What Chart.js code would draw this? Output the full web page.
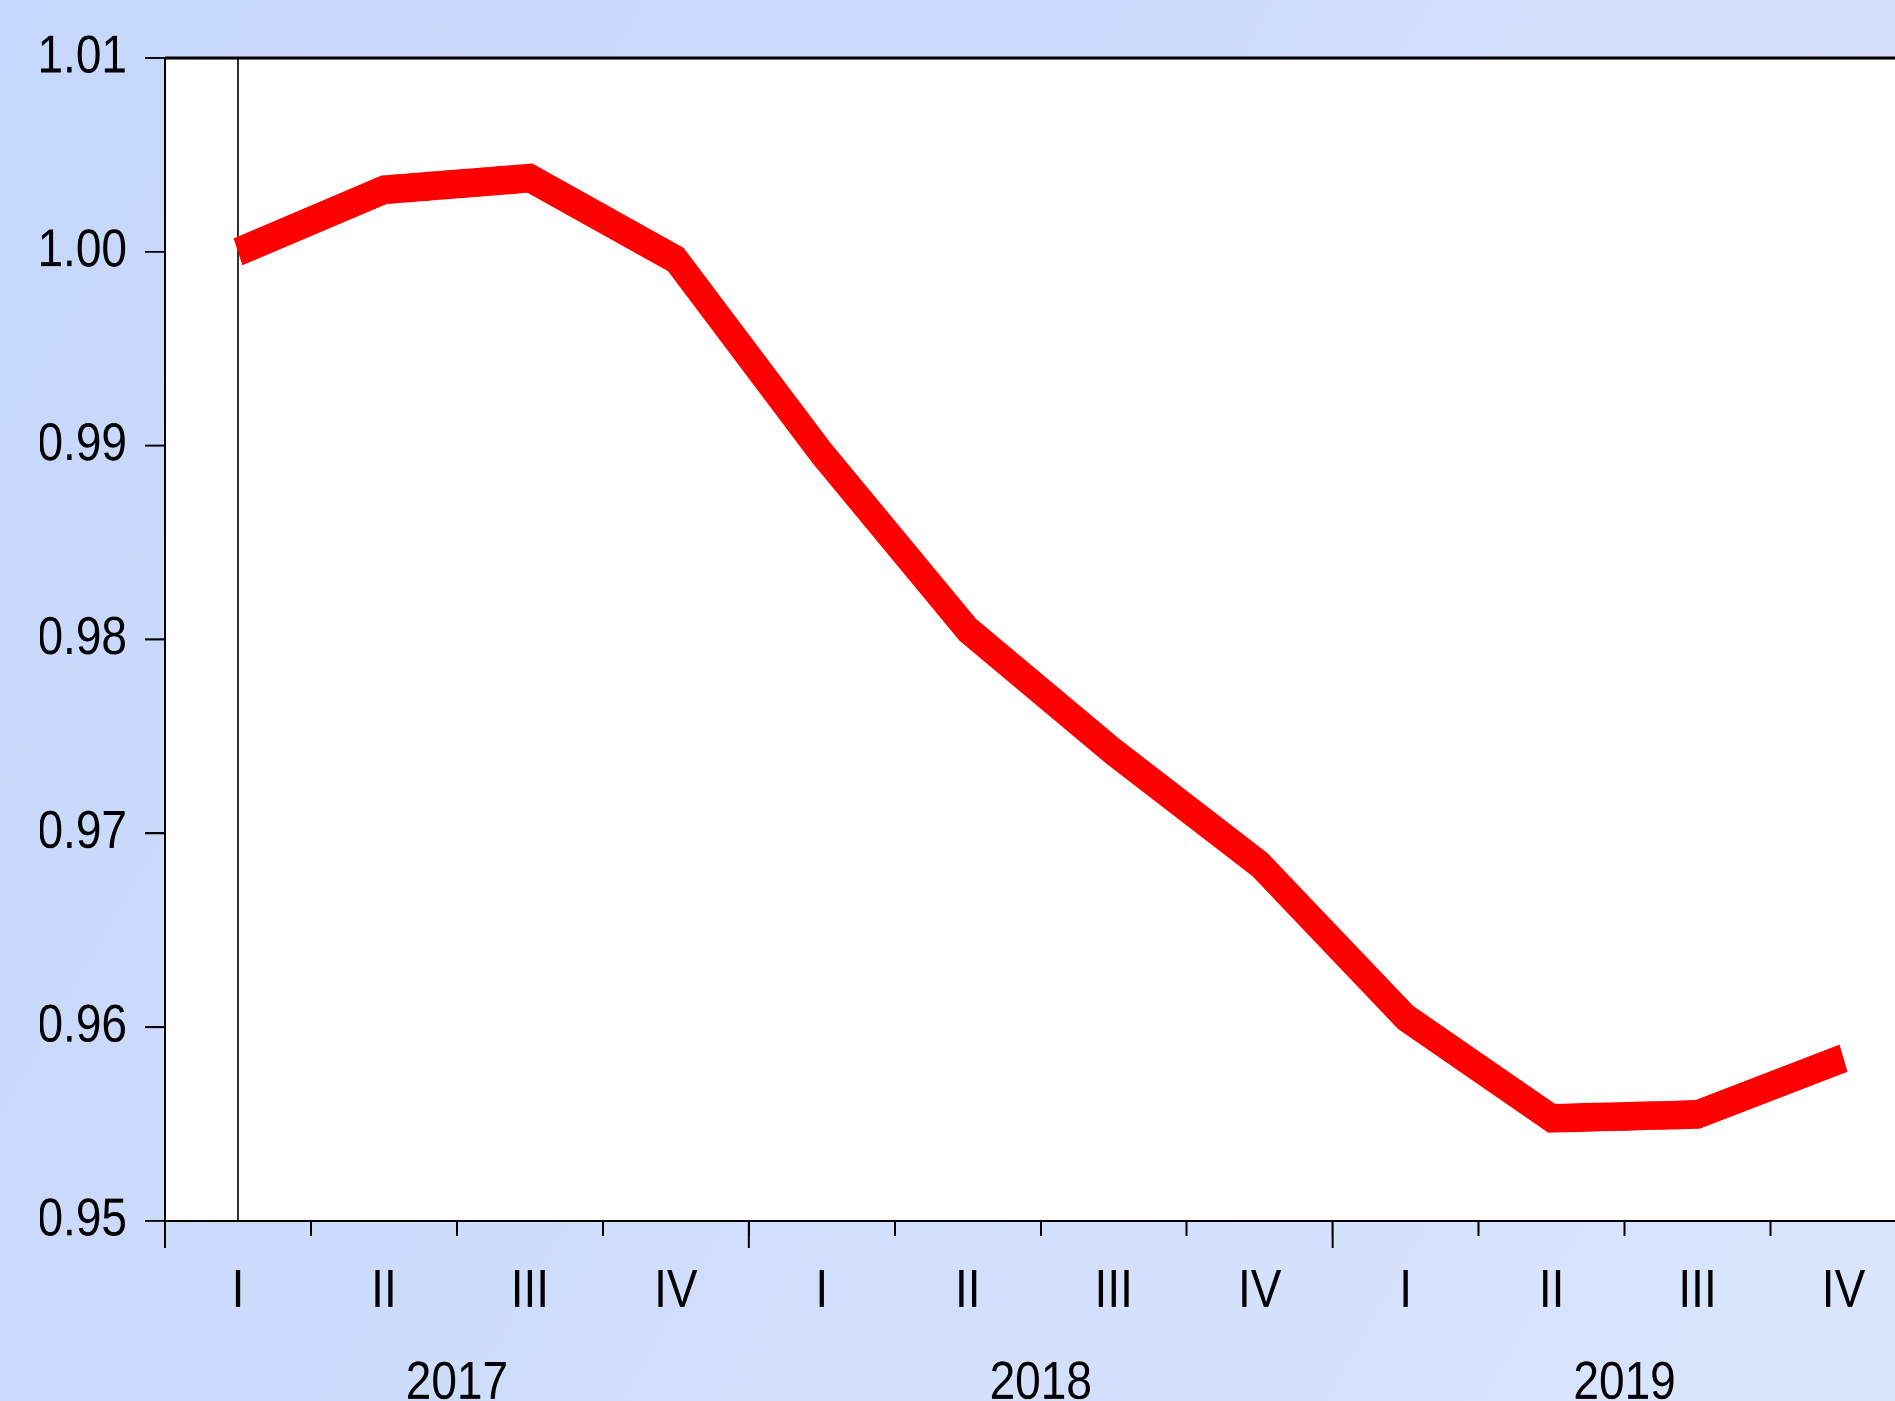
<!DOCTYPE html>
<html>
<head>
<meta charset="utf-8">
<script src="https://cdn.jsdelivr.net/npm/chart.js@4.4.1/dist/chart.umd.min.js"></script>
<style>
	html, body { margin: 0; padding: 0; overflow: hidden; width: 1895px; height: 1401px; }
	body { background: linear-gradient(120deg, #c5d7fc 0%, #cedcfc 45%, #dbe5fd 100%); }
	/* the source picture is stretched vertically, so the chart is drawn flat and scaled */
	#wrap { position: absolute; left: 0; top: 0; width: 1929px; height: 1218px; transform: scaleY(1.15025); transform-origin: 0 0; }
</style>
</head>
<body>
<div id="wrap"><canvas id="chart-line"></canvas></div>
<script>
const QUARTERS = ["I", "II", "III", "IV", "I", "II", "III", "IV", "I", "II", "III", "IV"];
const YEARS = ["2017", "2018", "2019"];
const VALUES = [1.0000, 1.0032, 1.0038, 0.9996, 0.9896, 0.9805, 0.9742, 0.9684, 0.9605, 0.9553, 0.9555, 0.9584];
const Y_MIN = 0.95;
const Y_MAX = 1.01;
const Y_STEP = 0.01;
const MARKER_INDEX = 0;
const YEAR_BOUNDS = [0, 4, 8, 12];

const FONT = { family: "'Liberation Sans', Arial, sans-serif", size: 46 };

// white plot area, marker line, frame and long year ticks
const FRAME = {
	id: "frame",
	beforeDraw(chart) {
		const { ctx, chartArea: a } = chart;
		ctx.save();
		ctx.fillStyle = "#ffffff";
		ctx.fillRect(a.left, a.top, a.right - a.left, a.bottom - a.top);
		ctx.restore();
	},
	beforeDatasetsDraw(chart) {
		const { ctx, chartArea: a, scales } = chart;
		const x = scales.x.getPixelForValue(MARKER_INDEX);
		ctx.save();
		ctx.strokeStyle = "#000";
		ctx.lineWidth = 1.6;
		ctx.beginPath();
		ctx.moveTo(x, a.top);
		ctx.lineTo(x, a.bottom);
		ctx.stroke();
		ctx.restore();
	},
	afterDraw(chart) {
		const { ctx, chartArea: a, scales } = chart;
		ctx.save();
		ctx.strokeStyle = "#000";
		ctx.lineWidth = 2.6;
		ctx.beginPath();
		ctx.moveTo(a.left, a.top);
		ctx.lineTo(a.right, a.top);
		ctx.stroke();
		ctx.lineWidth = 2;
		ctx.beginPath();
		ctx.moveTo(a.left, a.top);
		ctx.lineTo(a.left, a.bottom);
		ctx.lineTo(a.right, a.bottom);
		ctx.stroke();
		YEAR_BOUNDS.forEach((b) => {
			const x = scales.x.getPixelForValue(b - 0.5);
			ctx.beginPath();
			ctx.moveTo(x, a.bottom);
			ctx.lineTo(x, a.bottom + 23.5);
			ctx.stroke();
		});
		ctx.restore();
	},
};

// Chart data
const DATA = {
	labels: QUARTERS,
	datasets: [
		{
			data: VALUES,
			borderColor: "#ff0000",
			backgroundColor: "transparent",
			borderWidth: 25,
			borderCapStyle: "butt",
			borderJoinStyle: "miter",
			pointRadius: 0,
			tension: 0,
		},
	],
};

// Chart config
const CONFIG = {
	type: "line",
	data: DATA,
	plugins: [FRAME],
	options: {
		responsive: true,
		maintainAspectRatio: false,
		animation: false,
		devicePixelRatio: 2,
		layout: {
			padding: { left: 40, right: 6.6, top: 50.4, bottom: 0 },
		},
		plugins: {
			legend: { display: false },
			title: { display: false },
			tooltip: { enabled: false },
		},
		scales: {
			x: {
				type: "category",
				position: "bottom",
				weight: 0,
				offset: true,
				border: { display: false },
				grid: {
					offset: true,
					drawOnChartArea: false,
					drawTicks: true,
					tickLength: 13,
					color: "#000",
					lineWidth: 2,
				},
				ticks: {
					color: "#000",
					font: FONT,
					padding: 21,
					autoSkip: false,
					maxRotation: 0,
				},
				afterFit(scale) {
					scale.height = 80;
				},
			},
			year: {
				type: "category",
				position: "bottom",
				weight: 1,
				labels: YEARS,
				offset: true,
				border: { display: false },
				grid: { display: false, drawTicks: false, tickLength: 0 },
				ticks: {
					color: "#000",
					font: FONT,
					padding: 34,
					autoSkip: false,
					maxRotation: 0,
				},
				afterFit(scale) {
					scale.height = 76.5;
				},
			},
			y: {
				min: Y_MIN,
				max: Y_MAX,
				border: { display: false },
				grid: {
					drawOnChartArea: false,
					tickLength: 20,
					color: "#000",
					lineWidth: 1.8,
				},
				ticks: {
					stepSize: Y_STEP,
					color: "#000",
					font: FONT,
					padding: 18,
					callback: (v) => Number(v).toFixed(2),
				},
				afterFit(scale) {
					scale.width = 125;
				},
			},
		},
	},
};

// Init chart
const WRAPPER = document.getElementById("chart-line");
if (WRAPPER) {
	new Chart(WRAPPER, CONFIG);
}
</script>
</body>
</html>
